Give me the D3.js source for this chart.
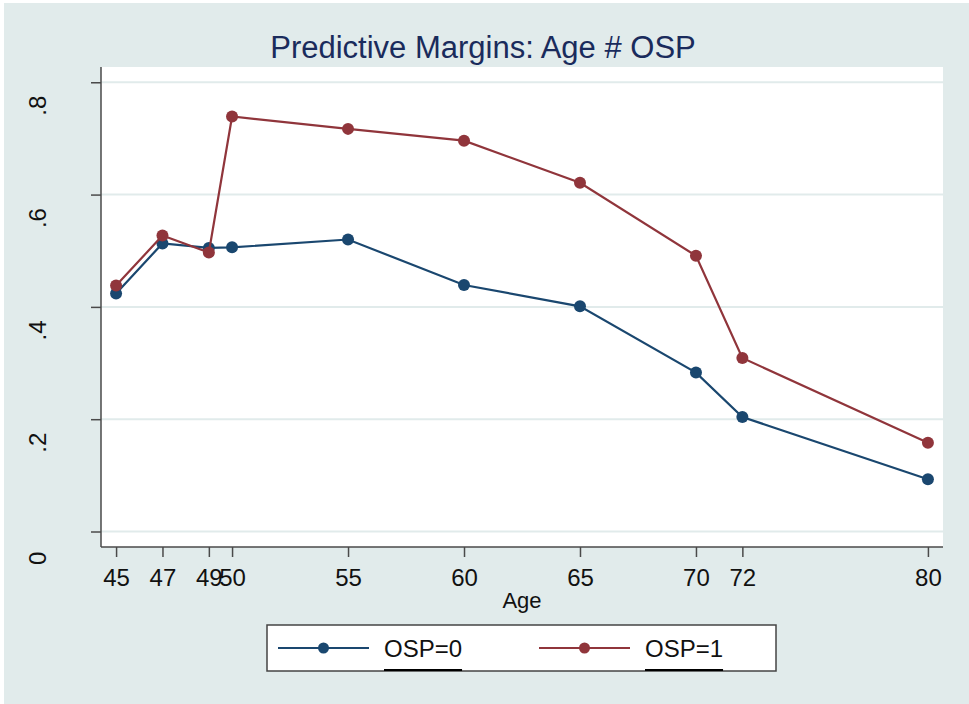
<!DOCTYPE html>
<html>
<head>
<meta charset="utf-8">
<script src="https://cdn.jsdelivr.net/npm/d3@7"></script>
<style>
  html, body { margin: 0; padding: 0; background: #ffffff; }
  svg { display: block; font-family: "Liberation Sans", Arial, sans-serif; }
</style>
</head>
<body>
<svg id="chart" width="969" height="704"></svg>
<script>
// ---- data ----
const ages = [45, 47, 49, 50, 55, 60, 65, 70, 72, 80];
const osp0 = [0.424, 0.513, 0.505, 0.506, 0.520, 0.439, 0.401, 0.283, 0.204, 0.093];
const osp1 = [0.438, 0.527, 0.497, 0.739, 0.717, 0.696, 0.621, 0.491, 0.309, 0.158];
const yTicks = [0, 0.2, 0.4, 0.6, 0.8];
const seriesNames = ["OSP=0", "OSP=1"];
const titleText = "Predictive Margins: Age # OSP";
const xTitle = "Age";

// ---- styles ----
const bg = "#e1ebeb";
const gridColor = "#e1ebeb";
const axisColor = "#4a4a4a";
const colors = ["#1a476f", "#90353b"];

const svg = d3.select("#chart");
const W = 969, H = 704;
const plot = { left: 101, right: 943, top: 67, bottom: 547 };

svg.append("rect").attr("x", 4).attr("y", 3).attr("width", W - 4).attr("height", H - 3).attr("fill", bg);
svg.append("rect").attr("x", plot.left).attr("y", plot.top)
  .attr("width", plot.right - plot.left).attr("height", plot.bottom - plot.top).attr("fill", "#ffffff");

const x = d3.scaleLinear().domain([44.35, 80.65]).range([plot.left, plot.right]);
const y = d3.scaleLinear().domain([-0.0276, 0.8272]).range([plot.bottom, plot.top]);

// gridlines
svg.append("g").selectAll("line").data(yTicks).join("line")
  .attr("x1", plot.left).attr("x2", plot.right)
  .attr("y1", d => y(d)).attr("y2", d => y(d))
  .attr("stroke", gridColor).attr("stroke-width", 2);

// y axis
const fmt = v => v === 0 ? "0" : String(v).replace(/^0/, "");
const yAxis = svg.append("g").attr("transform", `translate(${plot.left},0)`)
  .call(d3.axisLeft(y).tickValues(yTicks).tickSize(10).tickFormat(fmt));
yAxis.select(".domain").attr("stroke", axisColor).attr("stroke-width", 1.5)
  .attr("d", `M0,${plot.top}V${plot.bottom}`);
yAxis.selectAll(".tick line").attr("stroke", axisColor).attr("stroke-width", 1.5);
yAxis.selectAll(".tick text")
  .attr("x", null).attr("dy", null)
  .attr("text-anchor", "start")
  .attr("transform", "translate(-55,33) rotate(-90)")
  .attr("font-size", 24).attr("fill", "#111");

// x axis
const xAxis = svg.append("g").attr("transform", `translate(0,${plot.bottom})`)
  .call(d3.axisBottom(x).tickValues(ages).tickSize(10).tickPadding(12).tickFormat(d3.format("d")));
xAxis.select(".domain").attr("stroke", axisColor).attr("stroke-width", 1.5)
  .attr("d", `M${plot.left},0H${plot.right}`);
xAxis.selectAll(".tick line").attr("stroke", axisColor).attr("stroke-width", 1.5);
xAxis.selectAll(".tick text").attr("font-size", 24).attr("fill", "#111");

// series
const line = d3.line().x((d, i) => x(ages[i])).y(d => y(d));
[osp0, osp1].forEach((s, k) => {
  svg.append("path").datum(s).attr("d", line).attr("fill", "none")
    .attr("stroke", colors[k]).attr("stroke-width", 2.2);
  svg.append("g").selectAll("circle").data(s).join("circle")
    .attr("cx", (d, i) => x(ages[i])).attr("cy", d => y(d)).attr("r", 6)
    .attr("fill", colors[k]);
});

// title
svg.append("text").attr("x", 483).attr("y", 58).attr("text-anchor", "middle")
  .attr("font-size", 31).attr("fill", "#1a2b5c").text(titleText);

// x title
svg.append("text").attr("x", (plot.left + plot.right) / 2).attr("y", 608).attr("text-anchor", "middle")
  .attr("font-size", 22).attr("fill", "#111").text(xTitle);

// legend
const lg = svg.append("g");
lg.append("rect").attr("x", 267).attr("y", 625).attr("width", 509).attr("height", 46)
  .attr("fill", "#ffffff").attr("stroke", "#444").attr("stroke-width", 1.5);
const entries = [
  { x0: 278, x1: 369, tx: 384 },
  { x0: 539, x1: 630, tx: 645 }
];
entries.forEach((e, k) => {
  lg.append("line").attr("x1", e.x0).attr("x2", e.x1).attr("y1", 648).attr("y2", 648)
    .attr("stroke", colors[k]).attr("stroke-width", 2.2);
  lg.append("circle").attr("cx", (e.x0 + e.x1) / 2).attr("cy", 648).attr("r", 5.5).attr("fill", colors[k]);
  const t = lg.append("text").attr("x", e.tx).attr("y", 657).attr("font-size", 24).attr("fill", "#111")
    .text(seriesNames[k]);
  const w = t.node().getComputedTextLength();
  lg.append("line").attr("x1", e.tx).attr("x2", e.tx + w).attr("y1", 670).attr("y2", 670)
    .attr("stroke", "#000").attr("stroke-width", 2);
});
</script>
</body>
</html>
